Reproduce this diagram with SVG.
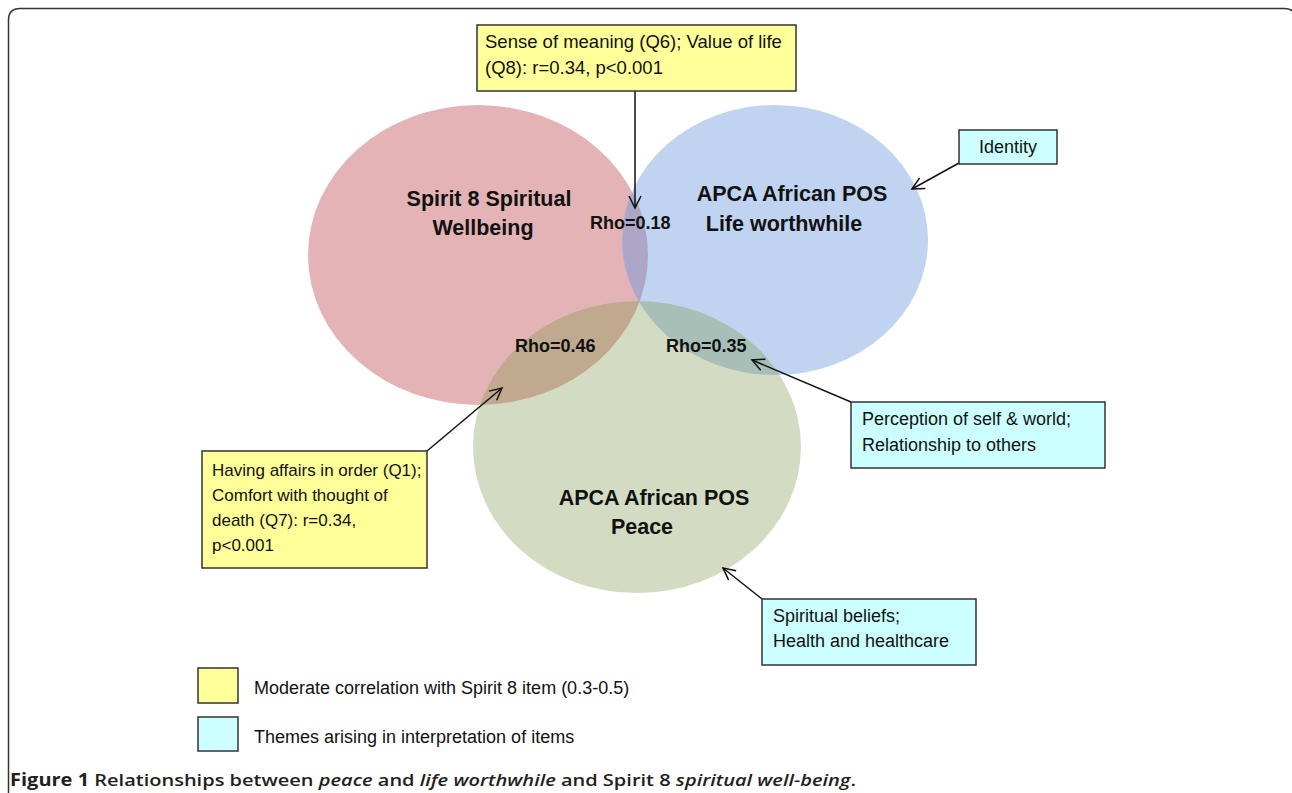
<svg xmlns="http://www.w3.org/2000/svg" width="1292" height="793" viewBox="0 0 1292 793">
<style>
.t{font-family:"Liberation Sans",Arial,sans-serif;font-size:18px;fill:#111}
.s17{font-size:17px}
.s185{font-size:18.5px}
.h{font-family:"Liberation Sans",Arial,sans-serif;font-size:21.5px;font-weight:bold;fill:#111;text-anchor:middle}
.r{font-family:"Liberation Sans",Arial,sans-serif;font-size:18px;font-weight:bold;fill:#111}
.yb{fill:#ffff99;stroke:#333;stroke-width:1.5}
.cb{fill:#ccffff;stroke:#333;stroke-width:1.5}
.con{stroke:#111;stroke-width:1.5;fill:none;marker-end:url(#arr)}
.cap{font-family:"Open Sans","Noto Sans",sans-serif;font-size:17px;fill:#231f20;font-weight:600}
</style>
<defs>
<marker id="arr" markerUnits="userSpaceOnUse" markerWidth="16" markerHeight="16" refX="13" refY="7" orient="auto">
<path d="M1,1 L13,7 L1,13" fill="none" stroke="#111" stroke-width="1.5"/>
</marker>
<clipPath id="cRed"><ellipse cx="478" cy="255" rx="170" ry="150"/></clipPath>
<clipPath id="cBlue"><ellipse cx="775" cy="240" rx="153" ry="135"/></clipPath>
</defs>
<rect width="1292" height="793" fill="#fff"/>
<path d="M8.5,800 L8.5,20 Q8.5,8.5 20,8.5 L1284,8.5 Q1296,8.5 1296,20 L1296,800" fill="none" stroke="#333" stroke-width="1.5"/>

<g id="ellipses">
<ellipse id="spirit" cx="478" cy="255" rx="170" ry="150" fill="#e3b3b5"/>
<ellipse id="worthwhile" cx="775" cy="240" rx="153" ry="135" fill="#c0d3f0"/>
<ellipse id="peace" cx="637" cy="447" rx="164" ry="146" fill="#d3dcc3"/>
<g clip-path="url(#cRed)"><ellipse cx="775" cy="240" rx="153" ry="135" fill="#aea6c8"/></g>
<g clip-path="url(#cRed)"><ellipse cx="637" cy="447" rx="164" ry="146" fill="#c1a98f"/></g>
<g clip-path="url(#cBlue)"><ellipse cx="637" cy="447" rx="164" ry="146" fill="#a8bfb7"/></g>
</g>

<g id="labels">
<text class="h" x="489" y="206">Spirit 8 Spiritual</text>
<text class="h" x="483" y="235">Wellbeing</text>
<text class="h" x="792" y="201">APCA African POS</text>
<text class="h" x="784" y="231">Life worthwhile</text>
<text class="h" x="654" y="505">APCA African POS</text>
<text class="h" x="642" y="534">Peace</text>
<text class="r" x="590" y="229">Rho=0.18</text>
<text class="r" x="515" y="352">Rho=0.46</text>
<text class="r" x="666" y="352">Rho=0.35</text>
</g>

<g id="connectors">
<line class="con" x1="635" y1="91" x2="635" y2="208"/>
<line class="con" x1="959" y1="163" x2="912" y2="189"/>
<line class="con" x1="851" y1="402" x2="752" y2="360"/>
<line class="con" x1="762" y1="599" x2="723" y2="568"/>
<line class="con" x1="427" y1="451" x2="502" y2="388"/>
</g>

<g id="box-meaning">
<rect class="yb" x="477" y="25" width="319" height="66"/>
<text class="t s185" x="485" y="48">Sense of meaning (Q6); Value of life</text>
<text class="t s185" x="485" y="74">(Q8): r=0.34, p&lt;0.001</text>
</g>

<g id="box-identity">
<rect class="cb" x="959" y="130" width="98" height="34"/>
<text class="t" x="1008" y="153" text-anchor="middle">Identity</text>
</g>

<g id="box-perception">
<rect class="cb" x="851" y="402" width="254" height="66"/>
<text class="t" x="862" y="425">Perception of self &amp; world;</text>
<text class="t" x="862" y="451">Relationship to others</text>
</g>

<g id="box-beliefs">
<rect class="cb" x="762" y="599" width="214" height="66"/>
<text class="t" x="773" y="622">Spiritual beliefs;</text>
<text class="t" x="773" y="647">Health and healthcare</text>
</g>

<g id="box-affairs">
<rect class="yb" x="202" y="451" width="225" height="117"/>
<text class="t s17" x="212" y="476">Having affairs in order (Q1);</text>
<text class="t s17" x="212" y="501">Comfort with thought of</text>
<text class="t s17" x="212" y="526">death (Q7): r=0.34,</text>
<text class="t s17" x="212" y="551">p&lt;0.001</text>
</g>

<g id="legend">
<rect class="yb" x="198" y="668" width="40" height="35"/>
<text class="t" x="254" y="694">Moderate correlation with Spirit 8 item (0.3-0.5)</text>
<rect class="cb" x="198" y="717" width="40" height="34"/>
<text class="t" x="254" y="743">Themes arising in interpretation of items</text>
</g>

<text class="cap" x="10" y="786" textLength="846" lengthAdjust="spacingAndGlyphs"><tspan font-weight="bold">Figure 1</tspan> Relationships between <tspan font-style="italic">peace</tspan> and <tspan font-style="italic">life worthwhile</tspan> and Spirit 8 <tspan font-style="italic">spiritual well-being</tspan>.</text>
</svg>
